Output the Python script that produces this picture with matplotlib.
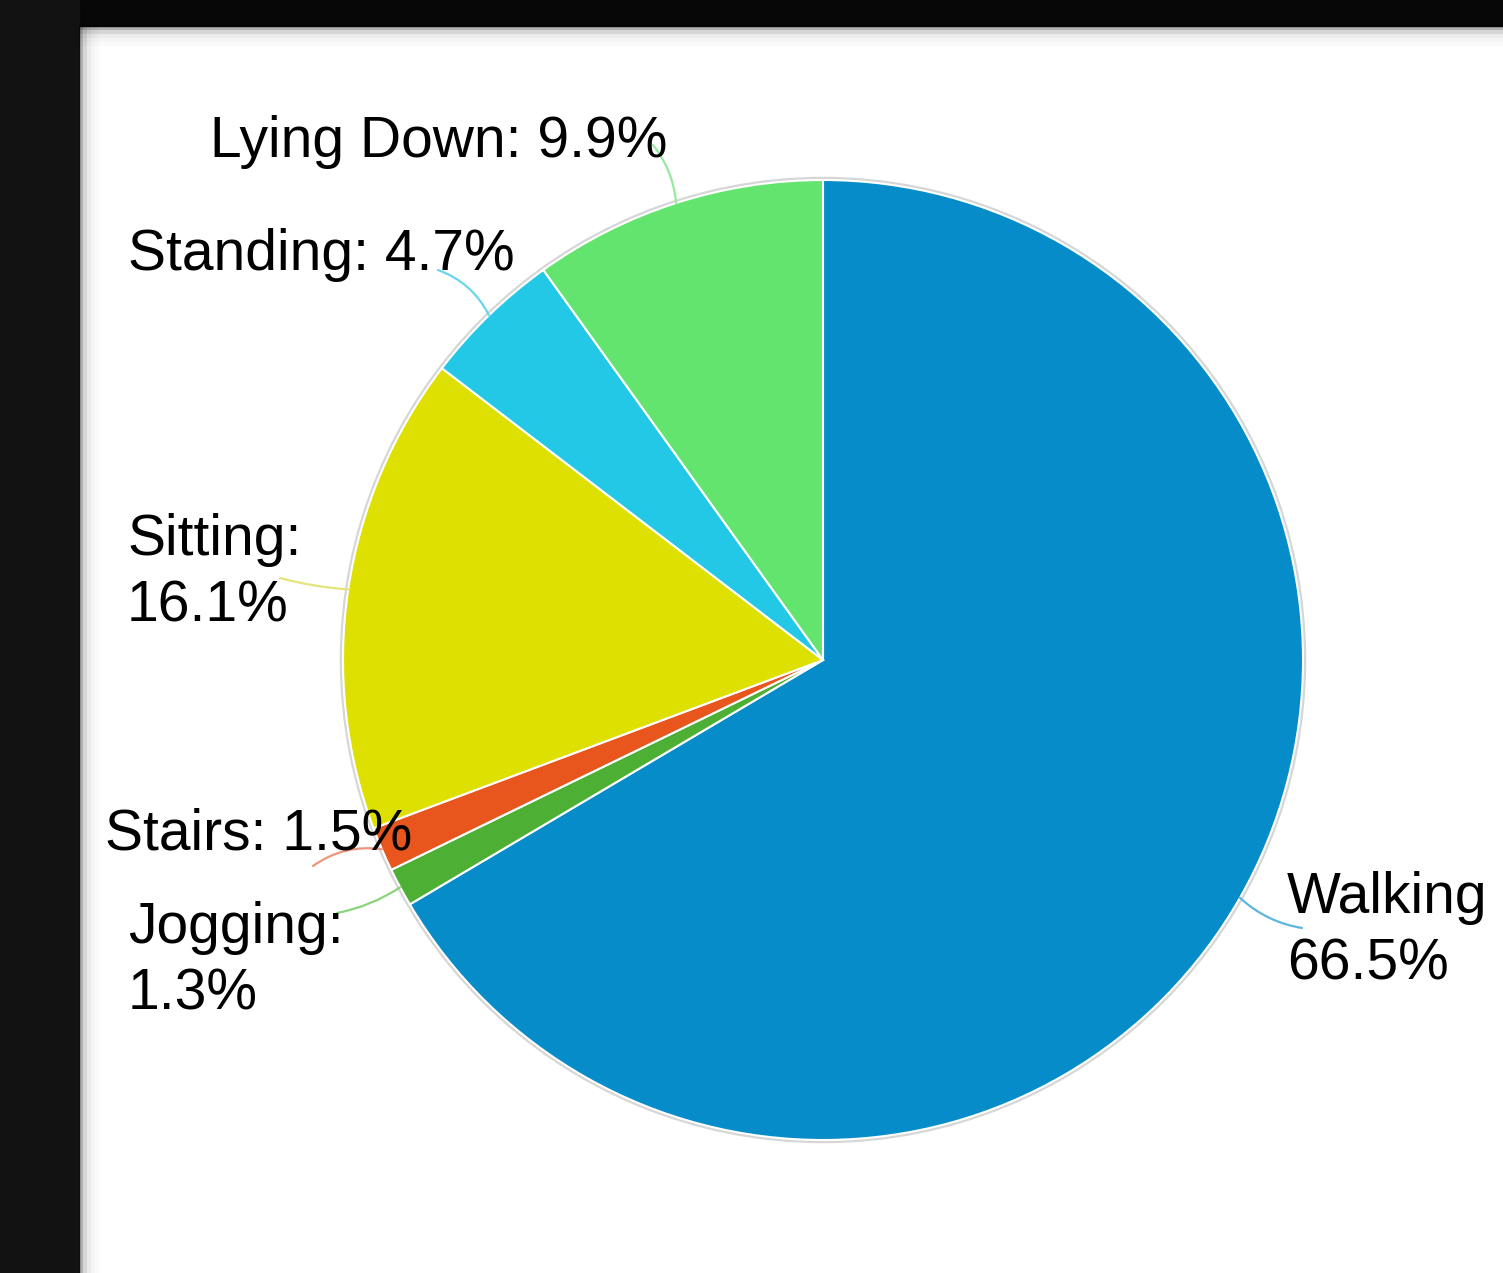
import numpy as np
import matplotlib.pyplot as plt
from matplotlib.patches import Rectangle, Circle

plt.rcParams['font.family'] = ['Liberation Sans', 'DejaVu Sans']

# data, clockwise from 12 o'clock
activities = ['Walking', 'Jogging', 'Stairs', 'Sitting', 'Standing', 'Lying Down']
shares = [66.5, 1.3, 1.5, 16.1, 4.7, 9.9]
labels = ['Walking\n66.5%', 'Jogging:\n1.3%', 'Stairs: 1.5%', 'Sitting:\n16.1%',
          'Standing: 4.7%', 'Lying Down: 9.9%']
colors = ['#068cc8', '#4db034', '#e8561e', '#dde000', '#22c8e5', '#63e46f']
line_colors = ['#5cb6e0', '#8cd47c', '#f0947a', '#e4e47a', '#6ad6ee', '#96ea9e']

W, H = 1503, 1273
cx, cy, R = 823, 660, 480

# label placement (pixel coords from top-left): text left x, first baseline y, leader end x, y
label_pos = {
    'Walking': (1287, 913, 1302, 928),
    'Jogging': (128, 943, 337, 913),
    'Stairs': (105, 850, 313, 866),
    'Sitting': (127, 555, 280, 578),
    'Standing': (128, 270, 438, 270),
    'Lying Down': (210, 157, 653, 145),
}
line_step = 67
rads = {'Walking': -0.15, 'Jogging': 0.1, 'Stairs': -0.2, 'Sitting': 0.05,
        'Standing': -0.2, 'Lying Down': -0.15}


def py(y):
    return H - y


fig = plt.figure(figsize=(W / 100, H / 100), dpi=100)
fig.patch.set_facecolor('white')
ax = fig.add_axes([0, 0, 1, 1])

# dark frame on top and left
ax.add_patch(Rectangle((0, py(26)), W, 26, color='#060606', zorder=0))
ax.add_patch(Rectangle((0, 0), 79, H, color='#121212', zorder=0))
for i, a in enumerate([0.3, 0.16, 0.08, 0.04, 0.02]):
    ax.add_patch(Rectangle((79 + i * 4, 0), 4, H - 26, color='black', alpha=a, lw=0, zorder=0.5))
    ax.add_patch(Rectangle((79, py(26) - (i + 1) * 4), W, 4, color='black', alpha=a, lw=0, zorder=0.5))

ax.add_patch(Circle((cx, py(cy)), R + 1.5, facecolor='none', edgecolor='#d6d6d6', lw=2.5, zorder=1))
wedges, _ = ax.pie(shares, colors=colors, startangle=90, counterclock=False,
                   center=(cx, py(cy)), radius=R,
                   wedgeprops=dict(edgecolor='white', linewidth=1.5))
for w in wedges:
    w.set_zorder(2)

for w, name, lab, lc in zip(wedges, activities, labels, line_colors):
    mid = np.deg2rad((w.theta1 + w.theta2) / 2)
    ax_pt = (cx + R * np.cos(mid), py(cy) + R * np.sin(mid))
    tx, ty, lx, ly = label_pos[name]
    ax.annotate('', xy=ax_pt, xytext=(lx, py(ly)),
                arrowprops=dict(arrowstyle='-', color=lc, lw=1.6,
                                shrinkA=0, shrinkB=0,
                                connectionstyle='arc3,rad=%s' % rads[name]),
                zorder=3)
    for k, line in enumerate(lab.split('\n')):
        ax.text(tx, py(ty + k * line_step), line, fontsize=41, color='black',
                ha='left', va='baseline', zorder=5)

# pie() resets the limits, so set them afterwards
ax.set_xlim(0, W)
ax.set_ylim(0, H)
ax.set_aspect('equal')
ax.axis('off')

fig.savefig('out.png', dpi=100, facecolor=fig.get_facecolor())
